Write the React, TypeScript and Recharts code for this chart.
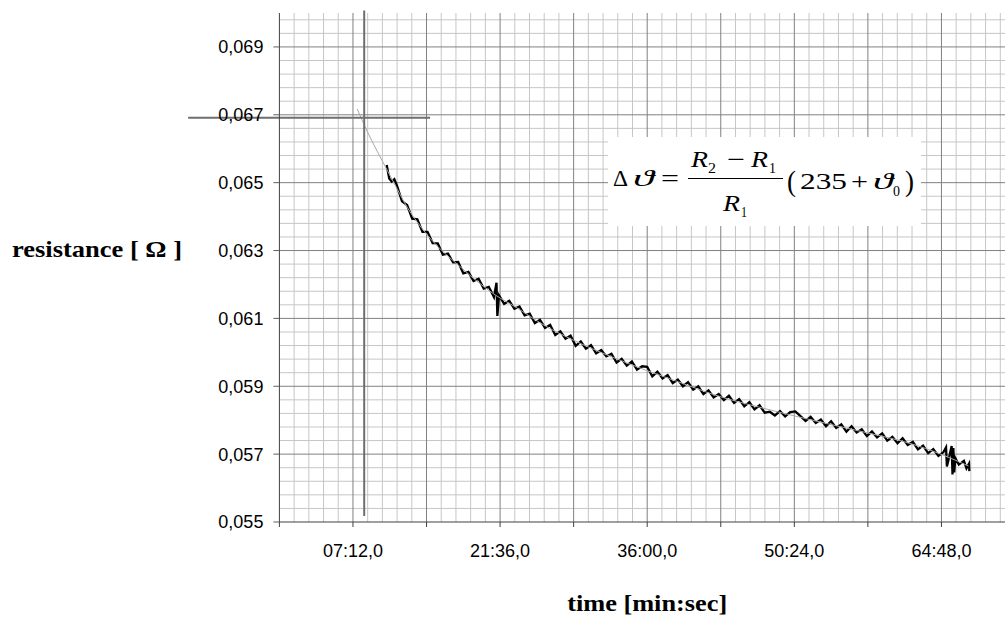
import React from 'react';
import { LineChart, Line, XAxis, YAxis, ReferenceLine } from 'recharts';

// measured resistance trace (time in seconds, resistance in ohm)
const dataTime = [
  630, 645, 660, 675, 690, 720, 750, 780, 810, 840, 870, 900, 930, 960, 990, 1020, 1050, 1080, 1110, 1140, 1170, 1200,
  1230, 1260, 1275, 1280, 1290, 1320, 1350, 1380, 1410, 1440, 1470, 1500, 1530, 1560, 1590, 1620, 1650, 1680,
  1710, 1740, 1770, 1800, 1830, 1860, 1890, 1920, 1950, 1980, 2010, 2040, 2070, 2100, 2130, 2160, 2190, 2220,
  2250, 2280, 2310, 2340, 2370, 2400, 2430, 2460, 2490, 2520, 2550, 2580, 2610, 2640, 2670, 2700, 2730, 2760,
  2790, 2820, 2850, 2880, 2910, 2940, 2970, 3000, 3030, 3060, 3090, 3120, 3150, 3180, 3210, 3240, 3270, 3300,
  3330, 3360, 3390, 3420, 3450, 3480, 3510, 3540, 3570, 3600, 3630, 3660, 3690, 3720, 3750, 3780, 3810, 3840,
  3870, 3900, 3915, 3920, 3930, 3948, 3953, 3958, 3963, 3970, 3990, 4020, 4035, 4050, 4052,
];
const dataResistance = [
  0.06552, 0.06512, 0.06503, 0.06510, 0.06492, 0.06445, 0.06434, 0.06394, 0.06392, 0.06355, 0.06355, 0.06322, 0.06321, 0.06288,
  0.06291, 0.06265, 0.06266, 0.06233, 0.06237, 0.0621, 0.06217, 0.06188, 0.06193, 0.06163, 0.06205, 0.06107,
  0.06168, 0.06143, 0.06152, 0.06128, 0.06135, 0.06109, 0.06114, 0.06086, 0.06096, 0.06072, 0.06081, 0.06051,
  0.06062, 0.0604, 0.06049, 0.06019, 0.06032, 0.06011, 0.06021, 0.05997, 0.06007, 0.05988, 0.05996, 0.0597,
  0.05981, 0.05961, 0.05973, 0.05949, 0.05959, 0.05957, 0.05929, 0.05943, 0.05923, 0.05933, 0.05909, 0.0592,
  0.059, 0.05912, 0.0589, 0.059, 0.05877, 0.05888, 0.05867, 0.05877, 0.05859, 0.05872, 0.05851, 0.05862,
  0.05841, 0.05853, 0.05832, 0.05844, 0.05822, 0.05825, 0.05814, 0.05827, 0.05811, 0.05824, 0.05826, 0.05812,
  0.05798, 0.0581, 0.05792, 0.05802, 0.05782, 0.05797, 0.05777, 0.05788, 0.05766, 0.05782, 0.05764, 0.05773,
  0.05753, 0.05767, 0.05749, 0.05761, 0.0574, 0.05751, 0.05732, 0.05747, 0.05727, 0.05736, 0.05714, 0.05725,
  0.05703, 0.05715, 0.05695, 0.05706, 0.0572, 0.05664, 0.05684, 0.05724, 0.0564, 0.05718, 0.05646, 0.05688,
  0.05669, 0.0568, 0.05658, 0.05672, 0.0565,
];

// fitted (smooth) curve, extrapolated back to the start
const fitTime = [457, 515, 574, 633, 692, 750, 809, 868, 950, 1044, 1138, 1268, 1385, 1561, 1726, 1955, 2149, 2343, 2578, 2813, 3030, 3224, 3459, 3694, 3894, 4047];
const fitResistance = [
  0.06717, 0.06652, 0.06593, 0.06537, 0.06481, 0.06428, 0.06384, 0.06346, 0.06302, 0.0626, 0.06219, 0.06169,
  0.06134, 0.06078, 0.06036, 0.05986, 0.05948, 0.05913, 0.05871, 0.05839, 0.05812, 0.05789, 0.05762, 0.05733,
  0.05698, 0.05665,
];

const xTicks = [0, 432, 864, 1296, 1728, 2160, 2592, 3024, 3456, 3888, 4320];
const xLabelTicks = [432, 1296, 2160, 3024, 3888];
const yTicks = [0.055, 0.057, 0.059, 0.061, 0.063, 0.065, 0.067, 0.069];

// crosshair marking the extrapolated start value
const crossTime = 498;
const crossResistance = 0.066916;
const crossVTop = 0.07007;
const crossVBottom = 0.05518;
const crossHLeft = -536;
const crossHRight = 885;

const measured = dataTime.map((t, i) => ({ t, r: dataResistance[i] }));
const fitted = fitTime.map((t, i) => ({ t, r: fitResistance[i] }));

const vMinor: number[] = [];
const vMajor: number[] = [];
for (let k = 1; k <= 50; k++) {
  const t = Math.round(k * 86.4 * 10) / 10;
  (k % 5 === 0 ? vMajor : vMinor).push(t);
}
const hMinor: number[] = [];
const hMajor: number[] = [];
for (let k = 1; k <= 37; k++) {
  const v = +(0.055 + k * 0.0004).toFixed(4);
  (k % 5 === 0 ? hMajor : hMinor).push(v);
}

const fmtTime = (t: number) => {
  if (!xLabelTicks.includes(t)) return '';
  const m = Math.floor(t / 60);
  const s = Math.round(t - m * 60);
  return `${String(m).padStart(2, '0')}:${String(s).padStart(2, '0')},0`;
};
const fmtRes = (v: number) => v.toFixed(3).replace('.', ',');

const SANS = "'Liberation Sans', Arial, sans-serif";
const SERIF = "'Liberation Serif', 'Times New Roman', serif";

const XTitle = (props: any) => {
  const vb = props.viewBox || { x: 279, width: 735 };
  return (
    <text x={vb.x + vb.width / 2} y={611} textAnchor="middle" fontFamily={SERIF} fontWeight="bold" fontSize={24} fill="#000" textLength={160} lengthAdjust="spacingAndGlyphs">
      time [min:sec]
    </text>
  );
};
const YTitle = () => (
  <text x={12} y={257} textAnchor="start" fontFamily={SERIF} fontWeight="bold" fontSize={24} fill="#000" textLength={170} lengthAdjust="spacingAndGlyphs">
    resistance [ Ω ]
  </text>
);

export default function App() {
  return (
    <div style={{ position: 'absolute', left: 0, top: 0, width: 1005, height: 617, overflow: 'hidden', background: '#fff' }}>
      <LineChart width={1022} height={617} margin={{ top: 13, right: 7, bottom: 65, left: 0 }}>
        {vMinor.map((t) => (
          <ReferenceLine key={'vm' + t} x={t} stroke="#c6c6c6" strokeWidth={1} zIndex={-100} />
        ))}
        {hMinor.map((v) => (
          <ReferenceLine key={'hm' + v} y={v} stroke="#c6c6c6" strokeWidth={1} zIndex={-100} />
        ))}
        {vMajor.map((t) => (
          <ReferenceLine key={'vM' + t} x={t} stroke="#808080" strokeWidth={1} zIndex={-90} />
        ))}
        {hMajor.map((v) => (
          <ReferenceLine key={'hM' + v} y={v} stroke="#808080" strokeWidth={1} zIndex={-90} />
        ))}
        <XAxis
          dataKey="t"
          type="number"
          domain={[0, 4320]}
          allowDataOverflow
          ticks={xTicks}
          interval={0}
          tickFormatter={fmtTime}
          tickSize={5}
          tickMargin={17}
          height={30}
          axisLine={{ stroke: '#404040' }}
          tickLine={{ stroke: '#404040' }}
          tick={{ fontSize: 18, fill: '#000', fontFamily: SANS }}
          label={XTitle}
        />
        <YAxis
          type="number"
          domain={[0.055, 0.07]}
          allowDataOverflow
          ticks={yTicks}
          interval={0}
          tickFormatter={fmtRes}
          tickSize={6}
          tickMargin={10}
          width={279.4}
          axisLine={{ stroke: '#404040' }}
          tickLine={{ stroke: '#606060' }}
          tick={{ fontSize: 18, fill: '#000', fontFamily: SANS }}
          label={YTitle}
        />
        <ReferenceLine
          segment={[{ x: crossTime, y: crossVTop }, { x: crossTime, y: crossVBottom }]}
          stroke="#6e6e6e"
          strokeWidth={2}
          ifOverflow="visible"
          zIndex={450}
        />
        <ReferenceLine
          segment={[{ x: crossHLeft, y: crossResistance }, { x: crossHRight, y: crossResistance }]}
          stroke="#6e6e6e"
          strokeWidth={2}
          ifOverflow="visible"
          zIndex={450}
        />
        <Line data={measured} dataKey="r" type="linear" stroke="#000" strokeWidth={2.3} strokeLinejoin="miter" dot={false} isAnimationActive={false} zIndex={400} />
        <Line data={fitted} dataKey="r" type="monotone" stroke="#a8a8a8" strokeWidth={1} dot={false} isAnimationActive={false} zIndex={410} />
      </LineChart>
      <svg width={1005} height={617} style={{ position: 'absolute', left: 0, top: 0, pointerEvents: 'none' }}>
        <rect x={608} y={137} width={313} height={89} fill="#fff" />
        <g fontFamily={SERIF} fill="#000">
          <text x={613} y={186} fontSize={24} textLength={15} lengthAdjust="spacingAndGlyphs">Δ</text>
          <text x={633} y={186} fontSize={24} fontStyle="italic" textLength={21} lengthAdjust="spacingAndGlyphs">ϑ</text>
          <text x={661} y={186} fontSize={24} textLength={18} lengthAdjust="spacingAndGlyphs">=</text>
          <text x={691} y={167} fontSize={23} fontStyle="italic" textLength={17} lengthAdjust="spacingAndGlyphs">R</text>
          <text x={708} y={173} fontSize={14} textLength={8} lengthAdjust="spacingAndGlyphs">2</text>
          <text x={727} y={167} fontSize={23} textLength={18} lengthAdjust="spacingAndGlyphs">−</text>
          <text x={751} y={167} fontSize={23} fontStyle="italic" textLength={17} lengthAdjust="spacingAndGlyphs">R</text>
          <text x={769} y={173} fontSize={14} textLength={7} lengthAdjust="spacingAndGlyphs">1</text>
          <line x1={688} x2={783} y1={178.5} y2={178.5} stroke="#000" strokeWidth={1.2} />
          <text x={723} y={211} fontSize={23} fontStyle="italic" textLength={17} lengthAdjust="spacingAndGlyphs">R</text>
          <text x={741} y={217} fontSize={14} textLength={6} lengthAdjust="spacingAndGlyphs">1</text>
          <text x={787} y={191} fontSize={29} textLength={9} lengthAdjust="spacingAndGlyphs">(</text>
          <text x={800} y={189} fontSize={24} textLength={47} lengthAdjust="spacingAndGlyphs">235</text>
          <text x={851} y={189} fontSize={24} textLength={17} lengthAdjust="spacingAndGlyphs">+</text>
          <text x={873} y={189} fontSize={24} fontStyle="italic" textLength={20} lengthAdjust="spacingAndGlyphs">ϑ</text>
          <text x={893} y={196} fontSize={14} textLength={7} lengthAdjust="spacingAndGlyphs">0</text>
          <text x={905} y={191} fontSize={29} textLength={9} lengthAdjust="spacingAndGlyphs">)</text>
        </g>
      </svg>
    </div>
  );
}
